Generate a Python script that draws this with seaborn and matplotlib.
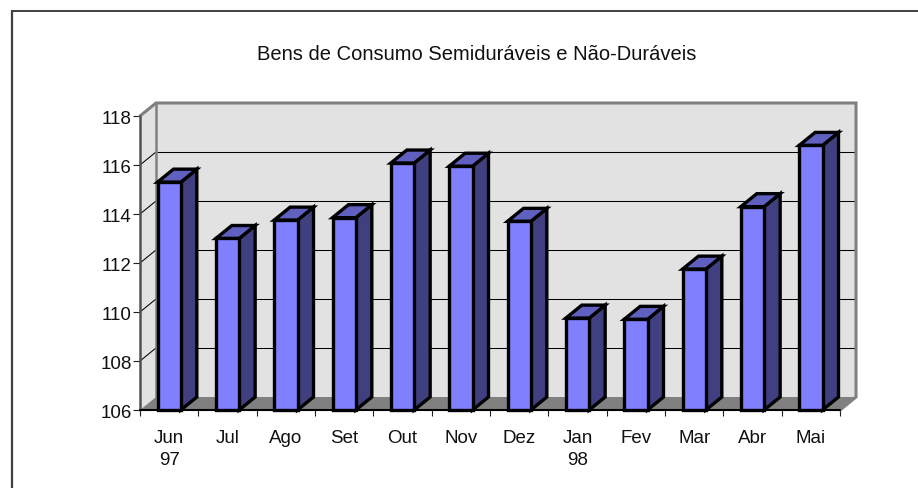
import numpy as np
import matplotlib
matplotlib.use("Agg")
import matplotlib.pyplot as plt
from matplotlib.lines import Line2D
from matplotlib.patches import Polygon
from matplotlib.transforms import ScaledTranslation
import seaborn as sns

titulo = "Bens de Consumo Semiduráveis e Não-Duráveis"
meses = ["Jun\n97", "Jul", "Ago", "Set", "Out", "Nov", "Dez", "Jan\n98", "Fev", "Mar", "Abr", "Mai"]
valores = [115.3, 113.0, 113.75, 113.85, 116.08, 115.95, 113.7, 109.75, 109.7, 111.75, 114.3, 116.8]
y_ticks = [106, 108, 110, 112, 114, 116, 118]

sns.set_style("white")
plt.rcParams['font.family'] = ['Liberation Sans', 'DejaVu Sans']

W, H = 918, 488
fig = plt.figure(figsize=(W / 100, H / 100), dpi=100)
ax = fig.add_axes([140 / W, (H - 410) / H, 700 / W, 294 / H])

base = y_ticks[0]
alturas = np.array(valores) - base

# front faces
sns.barplot(x=meses, y=alturas, bottom=base, width=0.4, color="#8080ff", saturation=1,
            edgecolor="black", linewidth=2.4, zorder=5, ax=ax, clip_on=False)
ax.set_xlim(-0.5, 11.5)
ax.set_ylim(base, y_ticks[-1])

# depth of the fake 3d, in data units
dx = 16 / (700 / 12)
dy = 13 / (294 / 12)
x0, x1 = -0.5, 11.5
y0, y1 = y_ticks[0], y_ticks[-1]

# walls and floor
ax.add_patch(Polygon([(x0 + dx, y0 + dy), (x1 + dx, y0 + dy), (x1 + dx, y1 + dy), (x0 + dx, y1 + dy)],
                     fc="#e2e2e2", ec="none", zorder=1, clip_on=False))
ax.add_patch(Polygon([(x0, y0), (x0 + dx, y0 + dy), (x0 + dx, y1 + dy), (x0, y1)],
                     fc="#e2e2e2", ec="none", zorder=1, clip_on=False))
ax.add_patch(Polygon([(x0, y0), (x1, y0), (x1 + dx, y0 + dy), (x0 + dx, y0 + dy)],
                     fc="#808080", ec="none", zorder=1.5, clip_on=False))

# gridlines, two pieces so the long one snaps to the pixels
for t in y_ticks[1:-1]:
    ax.plot([x0, x0 + dx], [t, t + dy], color="black", lw=0.75, zorder=2, clip_on=False)
    ax.plot([x0 + dx, x1 + dx], [t + dy, t + dy], color="black", lw=0.75, zorder=2, clip_on=False)

# wall borders
ax.plot([x0, x0 + dx, x1 + dx, x1 + dx, x1], [y1, y1 + dy, y1 + dy, y0 + dy, y0],
        color="#808080", lw=2.2, zorder=2.5, clip_on=False, solid_joinstyle="miter")
ax.plot([x0 + dx, x0 + dx], [y1 + dy, y0 + dy], color="#808080", lw=1.8, zorder=2.5, clip_on=False)

# sides and tops of bars
for bar, v in zip(ax.patches, valores):
    if not bar.get_width() or bar.get_zorder() != 5:
        continue
    xa = bar.get_x()
    xb = xa + bar.get_width()
    ax.add_patch(Polygon([(xb, base), (xb + dx, base + dy), (xb + dx, v + dy), (xb, v)],
                         fc="#404080", ec="black", lw=2.4, zorder=4, clip_on=False, joinstyle="miter"))
    ax.add_patch(Polygon([(xa, v), (xa + dx, v + dy), (xb + dx, v + dy), (xb, v)],
                         fc="#6060c0", ec="black", lw=2.4, zorder=4, clip_on=False, joinstyle="miter"))

# axes lines
sns.despine(ax=ax, left=True, bottom=True, top=True, right=True)
ax.plot([x0, x0], [y0, y1], color="#505050", lw=1.8, zorder=3, clip_on=False)
ax.plot([x0, x1], [y0, y0], color="black", lw=1.5, zorder=3, clip_on=False)

ax.set_yticks(y_ticks)
ax.tick_params(axis="y", left=True, length=5, width=0.8, color="#202020", labelsize=13.5, pad=1, labelcolor="#111111")
ax.set_xticks(np.arange(x0, x1 + 1))
ax.set_xticklabels([])
ax.set_xticks(np.arange(len(meses)), labels=meses, minor=True)
ax.tick_params(axis="x", which="major", bottom=True, length=4, width=0.8, color="#202020")
ax.tick_params(axis="x", which="minor", bottom=False, labelsize=13.5, pad=12.5, labelcolor="#111111")
for lab in ax.get_xticklabels(minor=True):
    lab.set_linespacing(1.4)
for lab in ax.get_yticklabels():
    lab.set_transform(lab.get_transform() + ScaledTranslation(0, -2 / 100, fig.dpi_scale_trans))
ax.set_xlabel("")
ax.set_ylabel("")

fig.text(476.5 / W, 1 - 54 / H, titulo, ha="center", va="center", fontsize=14.5, color="#111111")

# chart frame, cut off on the right and bottom
fig.add_artist(Line2D([12 / W, 1], [1 - 11 / H, 1 - 11 / H], color="#404040", lw=1.4))
fig.add_artist(Line2D([12 / W, 12 / W], [1 - 11 / H, 0], color="#404040", lw=1.6))

fig.savefig("out.png", dpi=100)
